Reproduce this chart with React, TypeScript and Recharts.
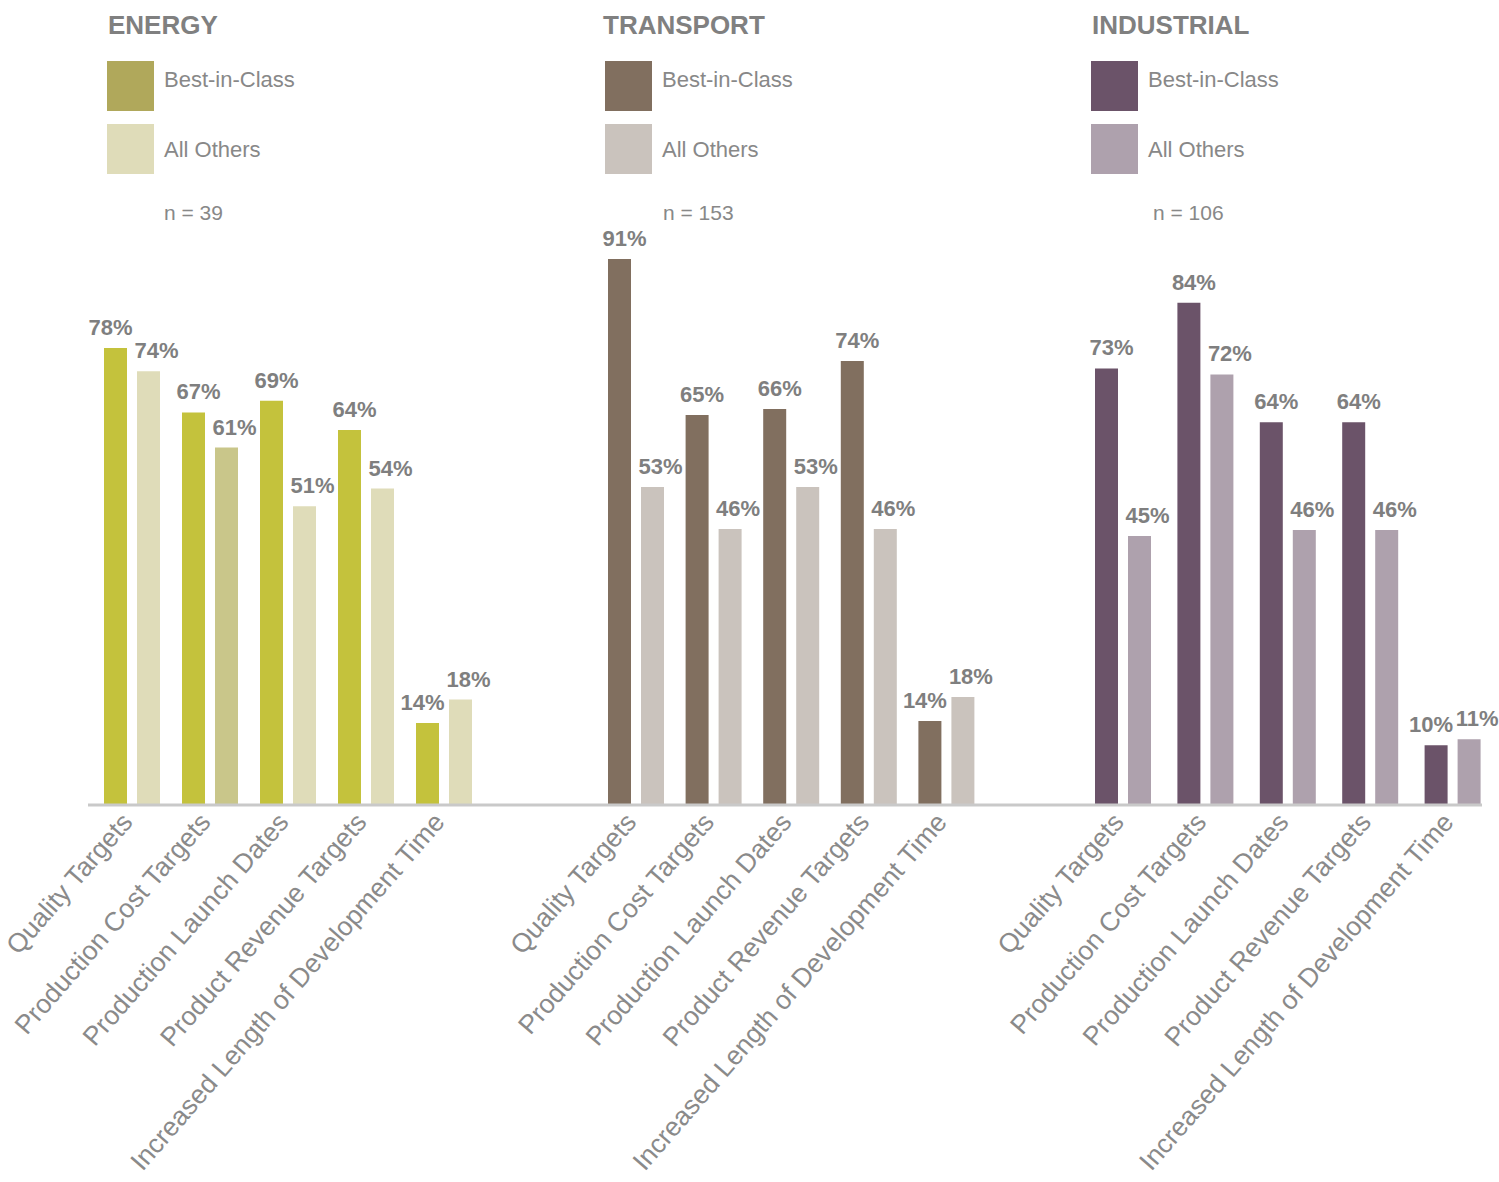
import React from 'react';
import { BarChart, Bar, XAxis, YAxis, LabelList, Cell } from 'recharts';

const FONT = '"Liberation Sans", Arial, Helvetica, sans-serif';

// ---------- data ----------
const categories = [
  'Quality Targets',
  'Production Cost Targets',
  'Production Launch Dates',
  'Product Revenue Targets',
  'Increased Length of Development Time',
];
const seriesNames = ['Best-in-Class', 'All Others'];
const panelTitles = ['ENERGY', 'TRANSPORT', 'INDUSTRIAL'];
const sampleSizes = [39, 153, 106];

const energyBest = [78, 67, 69, 64, 14];
const energyOthers = [74, 61, 51, 54, 18];
const transportBest = [91, 65, 66, 74, 14];
const transportOthers = [53, 46, 53, 46, 18];
const industrialBest = [73, 84, 64, 64, 10];
const industrialOthers = [45, 72, 46, 46, 11];

// ---------- styling / layout ----------
const W = 1499;
const H = 1182;
const BASE_Y = 805;
const LABEL_FONT = 22;

const panelStyles = [
  {
    best: energyBest, others: energyOthers,
    bestColor: '#c4c23c', bestLegend: '#b0a85b', othersColor: '#dfdcb9', othersAccent: { 1: '#c9c68a' } as Record<number, string>,
    plotLeft: 88, plotRight: 540, padL: 5, padR: 57, top: 219,
    titleX: 108, swatchX: 107, textX: 164, nX: 164,
  },
  {
    best: transportBest, others: transportOthers,
    bestColor: '#816f5f', bestLegend: '#816f5f', othersColor: '#cac3bd', othersAccent: {} as Record<number, string>,
    plotLeft: 540, plotRight: 1030, padL: 57, padR: 45, top: 205,
    titleX: 603, swatchX: 605, textX: 662, nX: 663,
  },
  {
    best: industrialBest, others: industrialOthers,
    bestColor: '#6b5369', bestLegend: '#6b5369', othersColor: '#aea1ad', othersAccent: {} as Record<number, string>,
    plotLeft: 1030, plotRight: 1482, padL: 52, padR: -12, top: 207,
    titleX: 1092, swatchX: 1091, textX: 1148, nX: 1153,
  },
];

const Tick = (props: any) => {
  const { x, payload } = props;
  const ax = x + 2;
  const ay = BASE_Y + 18;
  return (
    <text
      x={ax}
      y={ay}
      transform={`rotate(-49 ${ax} ${ay})`}
      textAnchor="end"
      fill="#8a8a8a"
      fontSize={26.5}
      fontFamily={FONT}
    >
      {payload.value}
    </text>
  );
};

// label placement: when the two labels of a pair sit at nearly the same height,
// spread them apart horizontally so they do not collide
const makeValueLabel = (isBest: boolean, pairValues: number[]) => (props: any) => {
  const { x, y, width, value, index } = props;
  const other = pairValues[index];
  const close = Math.abs(other - value) * 6 < LABEL_FONT + 6;
  const dx = close ? (isBest ? -5 : 8) : isBest ? 5 : 8;
  return (
    <text
      x={x + width / 2 + dx}
      y={y - 13}
      textAnchor="middle"
      fill="#7f7f7f"
      fontSize={LABEL_FONT}
      fontWeight="bold"
      fontFamily={FONT}
    >
      {`${value}%`}
    </text>
  );
};

const Panel = ({ idx }: { idx: number }) => {
  const p = panelStyles[idx];
  const data = categories.map((name, i) => ({ name, best: p.best[i], others: p.others[i] }));
  const BestLabel = makeValueLabel(true, p.others);
  const OthersLabel = makeValueLabel(false, p.best);
  return (
    <div style={{ position: 'absolute', left: 0, top: 0, width: W, height: H }}>
      <BarChart
        width={W}
        height={H}
        data={data}
        margin={{ top: p.top, left: p.plotLeft, right: W - p.plotRight, bottom: 0 }}
        barSize={23}
        barGap={10}
        style={{ overflow: 'visible' }}
      >
        <YAxis hide width={0} domain={[0, 100]} />
        <XAxis
          dataKey="name"
          height={H - BASE_Y}
          interval={0}
          tickLine={false}
          axisLine={{ stroke: '#c9c9c9', strokeWidth: 3 }}
          tick={<Tick />}
          padding={{ left: p.padL, right: p.padR }}
        />
        <Bar dataKey="best" name={seriesNames[0]} fill={p.bestColor} isAnimationActive={false}>
          <LabelList dataKey="best" content={BestLabel} />
        </Bar>
        <Bar dataKey="others" name={seriesNames[1]} fill={p.othersColor} isAnimationActive={false}>
          {data.map((_, i) => (
            <Cell key={i} fill={p.othersAccent[i] ?? p.othersColor} />
          ))}
          <LabelList dataKey="others" content={OthersLabel} />
        </Bar>
      </BarChart>
    </div>
  );
};

const Headers = () => (
  <svg width={W} height={260} style={{ position: 'absolute', left: 0, top: 0 }}>
    {panelStyles.map((p, i) => (
      <g key={i} fontFamily={FONT}>
        <text x={p.titleX} y={34} fontSize={26} fontWeight="bold" fill="#808080">
          {panelTitles[i]}
        </text>
        <rect x={p.swatchX} y={61} width={47} height={50} fill={p.bestLegend} />
        <rect x={p.swatchX} y={124} width={47} height={50} fill={p.othersColor} />
        <text x={p.textX} y={87} fontSize={22} fill="#888888">{seriesNames[0]}</text>
        <text x={p.textX} y={157} fontSize={22} fill="#888888">{seriesNames[1]}</text>
        <text x={p.nX} y={220} fontSize={21} fill="#888888">{`n = ${sampleSizes[i]}`}</text>
      </g>
    ))}
  </svg>
);

export default function App() {
  return (
    <div style={{ position: 'absolute', left: 0, top: 0, width: W, height: H, background: '#ffffff', overflow: 'hidden' }}>
      <Headers />
      {panelStyles.map((_, i) => (
        <Panel key={i} idx={i} />
      ))}
    </div>
  );
}
